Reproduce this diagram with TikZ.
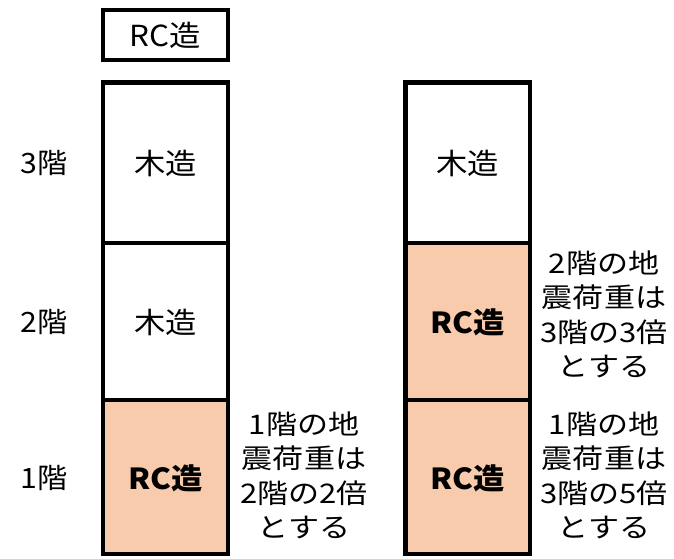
\documentclass[tikz,border=0pt]{standalone}
\usepackage{fontspec}
\usepackage{graphicx}
\setmainfont{Noto Sans CJK JP}
\definecolor{rcfill}{HTML}{F8CBAD}
\newcommand{\wideN}[1]{\scalebox{1.15}[1]{\begin{tabular}{@{}c@{}}#1\end{tabular}}}
\newcommand{\wideF}[1]{\scalebox{1.08}[1]{#1}}
\begin{document}
\begin{tikzpicture}[x=1pt,y=-1pt,
  box/.style={draw=black,line width=4.5pt},
  floortext/.style={font=\fontsize{29}{32}\selectfont},
  rctext/.style={font=\fontsize{29}{32}\selectfont\bfseries},
  note/.style={inner sep=0pt,font=\fontsize{27}{34.5}\selectfont},
  lvl/.style={font=\fontsize{28}{32}\selectfont}]
\useasboundingbox (0,0) rectangle (674,558);
% legend box
\draw[box] (103,10) rectangle (228,60);
\node[floortext] (legend) at (165.5,35) {\wideF{RC造}};
% left building
\draw[box,fill=white] (103,82.5) rectangle (228,243);
\draw[box,fill=white] (103,243) rectangle (228,400);
\draw[box,fill=rcfill] (103,400) rectangle (228,554);
\node[floortext] (l3) at (165.5,163) {\wideF{木造}};
\node[floortext] (l2) at (165.5,322) {\wideF{木造}};
\node[rctext] (l1) at (165.5,478) {\wideF{RC造}};
% floor labels
\node[lvl] (f3) at (44,163) {\wideF{3階}};
\node[lvl] (f2) at (44,322) {\wideF{2階}};
\node[lvl] (f1) at (44,478) {\wideF{1階}};
% right building
\draw[box,fill=white] (405.5,82.5) rectangle (530,243);
\draw[box,fill=rcfill] (405.5,243) rectangle (530,400);
\draw[box,fill=rcfill] (405.5,400) rectangle (530,554);
\node[floortext] (r3) at (467.75,163) {\wideF{木造}};
\node[rctext] (r2) at (467.75,322) {\wideF{RC造}};
\node[rctext] (r1) at (467.75,478) {\wideF{RC造}};
% notes
\node[note] (n1) at (304,479) {\wideN{1階の地\\震荷重は\\2階の2倍\\とする}};
\node[note] (n2) at (604,318) {\wideN{2階の地\\震荷重は\\3階の3倍\\とする}};
\node[note] (n3) at (604,479) {\wideN{1階の地\\震荷重は\\3階の5倍\\とする}};
\end{tikzpicture}
\end{document}
